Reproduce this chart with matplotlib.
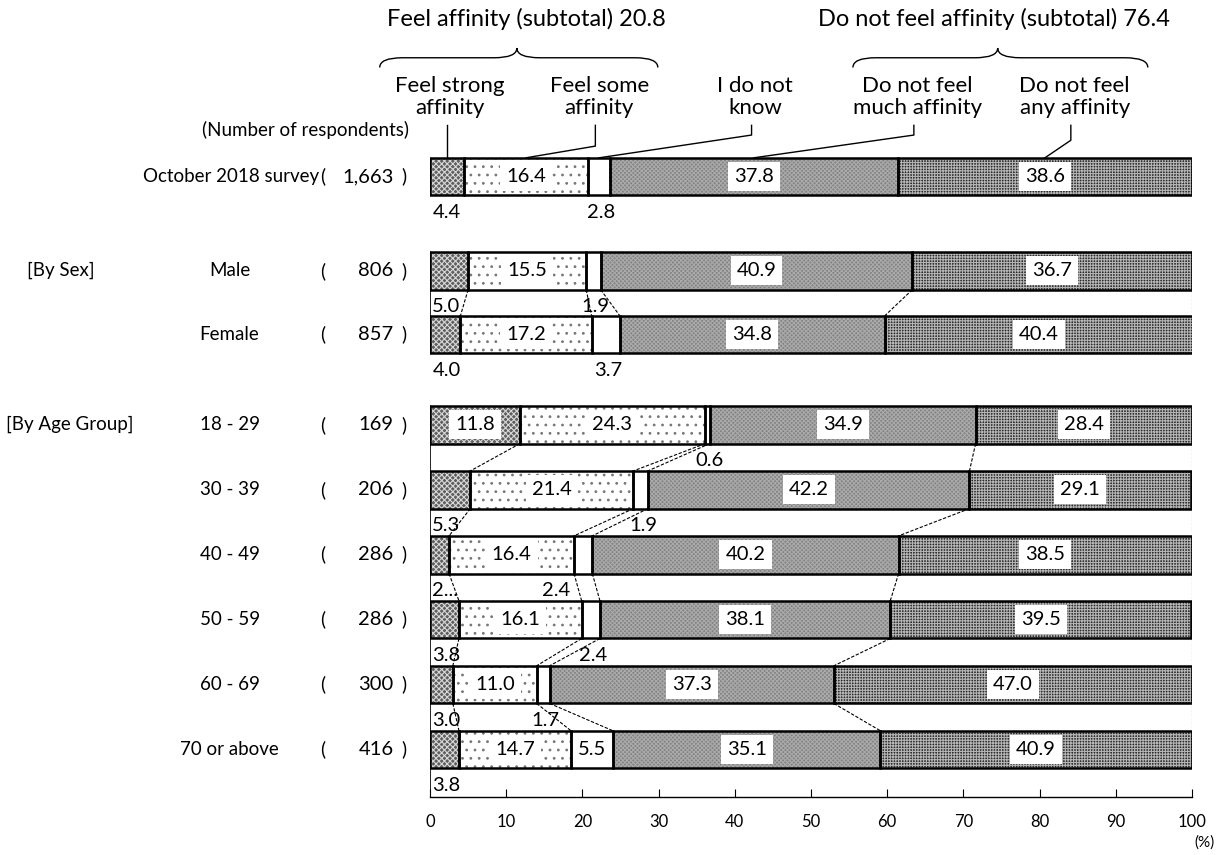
import numpy as np
import matplotlib.pyplot as plt
from matplotlib.patches import PathPatch
from matplotlib.path import Path

plt.rcParams['font.family'] = ['Lato', 'DejaVu Sans']
plt.rcParams['hatch.linewidth'] = 0.8

# data
rows = ['October 2018 survey', 'Male', 'Female', '18 - 29', '30 - 39',
        '40 - 49', '50 - 59', '60 - 69', '70 or above']
n_resp = ['1,663', '806', '857', '169', '206', '286', '286', '300', '416']
strong = [4.4, 5.0, 4.0, 11.8, 5.3, 2.5, 3.8, 3.0, 3.8]
some = [16.4, 15.5, 17.2, 24.3, 21.4, 16.4, 16.1, 11.0, 14.7]
dont_know = [2.8, 1.9, 3.7, 0.6, 1.9, 2.4, 2.4, 1.7, 5.5]
not_much = [37.8, 40.9, 34.8, 34.9, 42.2, 40.2, 38.1, 37.3, 35.1]
not_any = [38.6, 36.7, 40.4, 28.4, 29.1, 38.5, 39.5, 47.0, 40.9]
strong_txt = ['4.4', '5.0', '4.0', '11.8', '5.3', '2...', '3.8', '3.0', '3.8']
cat_names = ['Feel strong\naffinity', 'Feel some\naffinity', 'I do not\nknow',
             'Do not feel\nmuch affinity', 'Do not feel\nany affinity']
subtotal_txt = ['Feel affinity (subtotal) 20.8', 'Do not feel affinity (subtotal) 76.4']

# layout
ypos = np.array([0, 1.45, 2.43, 3.82, 4.82, 5.82, 6.82, 7.82, 8.82])
h = 0.58
groups = [(1, 2), (3, 8)]
styles = [  # facecolor, hatch, hatch colour
    ('#5e5e5e', 'xxxxxx', '#d8d8d8'),
    ('white', '..', '#777777'),
    ('white', '', 'white'),
    ('#828282', 'xxxxxxxx', '#aaaaaa'),
    ('#2b2b2b', '++++++', '#b4b4b4'),
]

series = [strong, some, dont_know, not_much, not_any]
data = np.array(series)
cum = np.vstack([np.zeros(len(rows)), np.cumsum(data, axis=0)])

fig = plt.figure(figsize=(12.24, 8.55), dpi=100)
ax = fig.add_axes([430 / 1224, 58 / 855, 762 / 1224, 647 / 855])

for k, vals in enumerate(series):
    fc, hatch, hc = styles[k]
    ax.barh(ypos, vals, left=cum[k], height=h, color=fc, edgecolor=hc,
            hatch=hatch, lw=0, zorder=2)
    ax.barh(ypos, vals, left=cum[k], height=h, fill=False, edgecolor='black',
            lw=1.8, zorder=3)

box = dict(boxstyle='square,pad=0.3', fc='white', ec='none')
fs_val = 14.5
for i in range(len(rows)):
    y = ypos[i]
    # strong
    if strong[i] >= 10:
        ax.text(cum[0, i] + strong[i] / 2, y, strong_txt[i], ha='center', va='center',
                fontsize=fs_val, bbox=box, zorder=5)
    else:
        ax.text(0.3, y + h / 2 + 0.26, strong_txt[i], ha='left', va='center',
                fontsize=fs_val, zorder=5)
    # some / not much / not any
    for k in (1, 3, 4):
        ax.text(cum[k, i] + data[k, i] / 2, y, f'{data[k, i]:.1f}', ha='center',
                va='center', fontsize=fs_val, bbox=box, zorder=5)
    # don't know
    if dont_know[i] >= 5:
        ax.text(cum[2, i] + dont_know[i] / 2, y, f'{dont_know[i]:.1f}', ha='center',
                va='center', fontsize=fs_val, zorder=5)
    else:
        nudge = -3.5 if rows[i] == '40 - 49' else 0.3
        ax.text(cum[2, i] + dont_know[i] / 2 + nudge, y + h / 2 + 0.26,
                f'{dont_know[i]:.1f}', ha='center', va='center', fontsize=fs_val,
                zorder=5)

# connectors and group frames
for a, b in groups:
    for i in range(a, b):
        for k in range(1, 5):
            ax.plot([cum[k, i], cum[k, i + 1]], [ypos[i] + h / 2, ypos[i + 1] - h / 2],
                    color='black', lw=0.8, ls=(0, (3, 1.5)), zorder=4)
    bottom = ypos[b] + h / 2 if b != 8 else 9.55
    ax.plot([0, 0], [ypos[a] - h / 2, bottom], color='black', lw=1.2, zorder=4)
    ax.plot([100, 100], [ypos[a] - h / 2, ypos[b] + h / 2], color='#555555', lw=0.8,
            ls=(0, (2, 1.5)), zorder=4)

# header labels and leader lines
centers = cum[:-1, 0] + data[:, 0] / 2
head_x = [2.6, 22.2, 42.7, 64.0, 84.6]
knee_y = [None, -0.47, -0.64, -0.64, -0.56]
for k in range(5):
    ax.text(head_x[k], -1.23, cat_names[k], ha='center', va='center', fontsize=16,
            linespacing=1.1)
    if knee_y[k] is None:
        xs, ys = [centers[k], centers[k]], [-0.79, -h / 2]
    else:
        xs = [head_x[k] - 0.5, head_x[k] - 0.5, centers[k]]
        ys = [-0.79, knee_y[k], -h / 2]
    ax.plot(xs, ys, color='black', lw=1.0, clip_on=False, zorder=4)


def brace(x1, x2, xt, y_end, y_mid, y_tip, r=3.0):
    verts = [(x1, y_end), (x1, y_mid), (x1 + r, y_mid), (xt - r, y_mid),
             (xt, y_mid), (xt, y_tip), (xt, y_mid), (xt + r, y_mid),
             (x2 - r, y_mid), (x2, y_mid), (x2, y_end)]
    codes = [Path.MOVETO, Path.CURVE3, Path.CURVE3, Path.LINETO,
             Path.CURVE3, Path.CURVE3, Path.CURVE3, Path.CURVE3,
             Path.LINETO, Path.CURVE3, Path.CURVE3]
    ax.add_patch(PathPatch(Path(verts, codes), fill=False, lw=1.0, clip_on=False))


brace(-6.6, 29.9, 11.4, -1.68, -1.83, -1.98)
brace(55.5, 94.2, 74.5, -1.68, -1.83, -1.98)
ax.text(12.6, -2.42, subtotal_txt[0], ha='center', va='center', fontsize=17)
ax.text(74.0, -2.42, subtotal_txt[1], ha='center', va='center', fontsize=17)

# left-hand labels
fs_left = 13.5
ax.text(-16.3, -0.72, '(Number of respondents)', ha='center', va='center',
        fontsize=fs_left, clip_on=False)
for i, name in enumerate(rows):
    y = ypos[i]
    if i == 0:
        ax.text(-14.6, y, name, ha='right', va='center', fontsize=fs_left)
    else:
        ax.text(-26.3, y, name, ha='center', va='center', fontsize=fs_left)
    ax.text(-14.4, y, '(', ha='left', va='center', fontsize=fs_left)
    ax.text(-4.8, y, n_resp[i], ha='right', va='center', fontsize=14.5)
    ax.text(-3.7, y, ')', ha='left', va='center', fontsize=fs_left)
ax.text(-48.4, ypos[1], '[By Sex]', ha='center', va='center', fontsize=fs_left)
ax.text(-47.3, ypos[3], '[By Age Group]', ha='center', va='center', fontsize=fs_left)

ax.set_xlim(0, 100)
ax.set_ylim(9.55, -0.41)
ax.set_xticks(np.arange(0, 101, 10))
ax.tick_params(axis='x', direction='in', length=6, labelsize=12, pad=12)
ax.set_yticks([])
for s in ['top', 'right', 'left']:
    ax.spines[s].set_visible(False)
ax.spines['bottom'].set_linewidth(1.0)
ax.text(101.6, 10.25, '(%)', ha='center', va='center', fontsize=11, clip_on=False)

fig.savefig('out.png', dpi=100)
